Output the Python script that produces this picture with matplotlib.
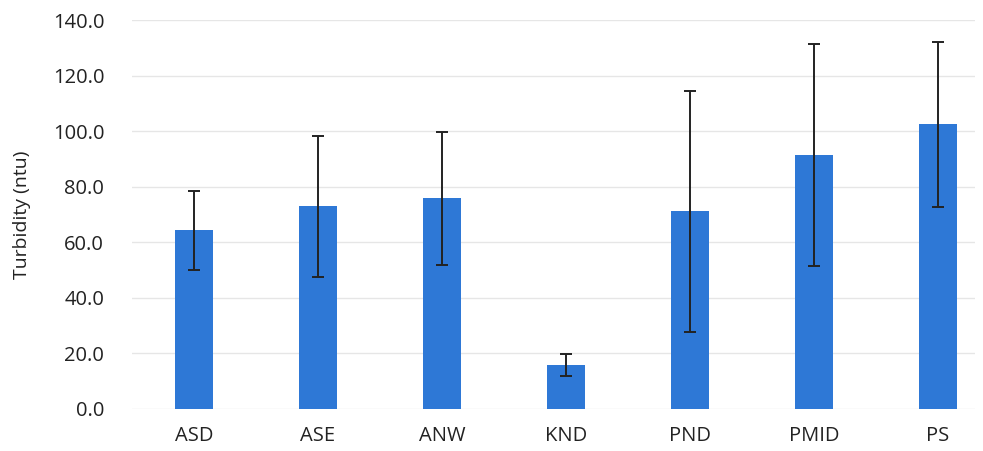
import matplotlib
matplotlib.use("Agg")
import matplotlib.pyplot as plt
from matplotlib.ticker import FormatStrFormatter

# Mean turbidity per sampling site with standard deviation
sites = ["ASD", "ASE", "ANW", "KND", "PND", "PMID", "PS"]
turbidity = [64.3, 72.9, 75.8, 15.8, 71.1, 91.5, 102.4]
turbidity_sd = [14.3, 25.3, 24.0, 3.9, 43.3, 40.0, 29.8]
y_ticks = [0, 20, 40, 60, 80, 100, 120, 140]

plt.rcParams["font.family"] = ["Open Sans", "DejaVu Sans"]

fig = plt.figure(figsize=(9.83, 4.51), dpi=100)
ax = fig.add_axes([132 / 983, 1 - 409 / 451, (975 - 132) / 983, (409 - 20) / 451])

x = list(range(len(sites)))
ax.bar(x, turbidity, width=0.31, color="#2e78d6", zorder=2)
ax.errorbar(x, turbidity, yerr=turbidity_sd, fmt="none", ecolor="#222222",
            elinewidth=1.4, capsize=4.5, capthick=1.4, zorder=3)

ax.set_xlim(-0.5, 6.3)
ax.set_ylim(0, 140)
ax.set_yticks(y_ticks)
ax.yaxis.set_major_formatter(FormatStrFormatter("%.1f"))
ax.set_xticks(x)
ax.set_xticklabels(sites)

ax.grid(axis="y", color="#e6e6e6", linewidth=1, zorder=0)
for side in ["top", "right", "left", "bottom"]:
    ax.spines[side].set_visible(False)
ax.tick_params(axis="both", length=0, labelsize=14.5, colors="#222222")
ax.tick_params(axis="y", pad=20)
ax.tick_params(axis="x", pad=12)

ax.set_ylabel("Turbidity (ntu)", fontsize=14, color="#222222", labelpad=16)

fig.savefig("out.png", dpi=100, facecolor="white")
